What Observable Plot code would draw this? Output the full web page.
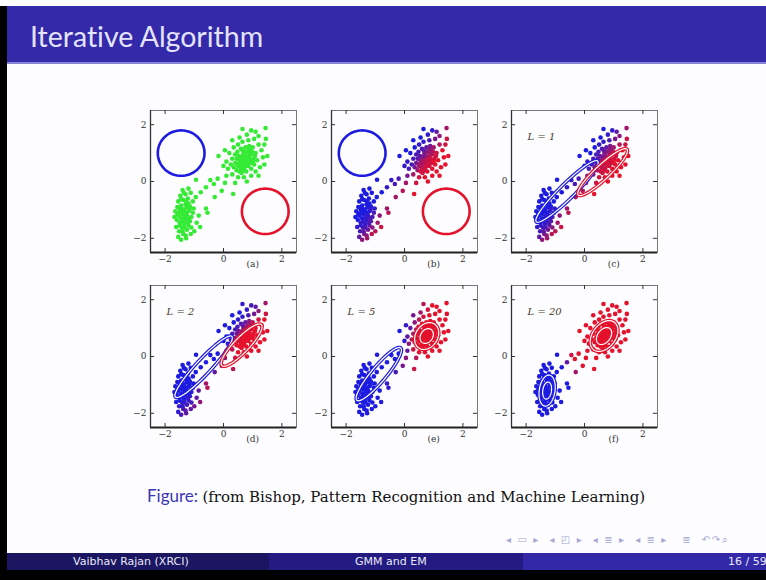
<!DOCTYPE html>
<html><head><meta charset="utf-8">
<script src="https://cdn.jsdelivr.net/npm/d3@7"></script>
<script src="https://cdn.jsdelivr.net/npm/@observablehq/plot@0.6"></script>
<style>
html,body{margin:0;padding:0;background:#fff;}
#slide{position:relative;width:766px;height:580px;overflow:hidden;background:#fdfdff;font-family:Lato,sans-serif;}
.abs{position:absolute;white-space:nowrap;}
</style></head><body><div id="slide">
<div class="abs" style="left:0;top:6px;width:7px;height:574px;background:#000"></div>
<div class="abs" style="left:7px;top:6px;width:759px;height:56px;background:#3429a8"></div>
<div class="abs" style="left:7px;top:62px;width:759px;height:2px;background:#8a82d4"></div>
<div class="abs" style="left:30px;top:20px;color:#e4e4ff;font-size:28.5px;line-height:32px;font-variant-ligatures:none;">Iterative Algorithm</div>
<div class="abs" id="caption" style="left:147px;top:486px;font-size:17px;line-height:20px;color:#111;"><span style="color:#3b35b5">Figure:</span> <span style="font-family:'DejaVu Serif',serif;font-size:15px">(from Bishop, Pattern Recognition and Machine Learning)</span></div>
<div class="abs" style="left:506px;top:534px;font-family:'DejaVu Sans',sans-serif;font-size:10px;color:#a8a8d4;letter-spacing:1.6px;">◂ ▭ ▸&nbsp; ◂ ◰ ▸&nbsp; ◂ ≣ ▸&nbsp; ◂ ≣ ▸&nbsp;&nbsp; ≣ &nbsp;↶↷⌕</div>
<div class="abs" style="left:7px;top:553px;width:262px;height:17px;background:#1b1662"></div>
<div class="abs" style="left:269px;top:553px;width:254px;height:17px;background:#231b82"></div>
<div class="abs" style="left:523px;top:553px;width:243px;height:17px;background:#3228a8"></div>
<div class="abs" style="left:0;top:570px;width:766px;height:10px;background:#000"></div>
<div class="abs" style="left:73px;top:555px;font-family:'DejaVu Sans',sans-serif;font-size:11px;line-height:13px;color:#e8e8f4;">Vaibhav Rajan (XRCI)</div>
<div class="abs" style="left:355px;top:555px;font-family:'DejaVu Sans',sans-serif;font-size:11px;line-height:13px;color:#e8e8f4;">GMM and EM</div>
<div class="abs" style="left:728px;top:555px;font-family:'DejaVu Sans',sans-serif;font-size:11px;line-height:13px;color:#e8e8f4;">16 / 59</div>
</div>
<script>
// Standardised Old Faithful data (x = eruption, y = waiting)
const faithful = [
[-1.55,-1.95],[-1.45,-2.05],[-1.38,-1.85],[-1.52,-1.75],[-1.30,-1.90],
[-1.62,-1.60],[-1.42,-1.62],[-1.25,-1.70],[-1.50,-1.45],[-1.35,-1.50],
[-1.20,-1.55],[-1.60,-1.35],[-1.45,-1.30],[-1.30,-1.35],[-1.15,-1.40],
[-1.55,-1.20],[-1.40,-1.15],[-1.25,-1.20],[-1.10,-1.25],[-1.65,-1.05],
[-1.50,-1.00],[-1.35,-0.98],[-1.20,-1.05],[-1.05,-1.10],[-1.45,-0.85],
[-1.30,-0.80],[-1.15,-0.88],[-1.55,-0.70],[-1.38,-0.65],[-1.22,-0.60],
[-1.05,-0.70],[-1.48,-0.50],[-1.30,-0.45],[-1.12,-0.40],[-0.95,-0.55],
[-1.40,-0.30],[-1.20,-0.25],[-0.94,0.06],[-0.78,-0.38],[-0.60,-0.95],
[-0.55,-1.10],[-0.85,-1.20],[-0.92,-1.45],[-0.80,-1.60],[-1.00,-1.75],
[-1.12,-1.85],[-1.68,-1.25],[-1.58,-0.90],[-1.28,-1.10],[-1.42,-1.40],
[-1.18,-1.30],[-1.34,-1.62],[-1.48,-1.12],[-1.26,-0.90],[-1.02,-0.95],
[0.50,0.55],[0.60,0.60],[0.70,0.65],[0.80,0.70],[0.90,0.75],
[0.55,0.75],[0.65,0.80],[0.75,0.85],[0.85,0.90],[0.95,0.95],
[0.45,0.40],[0.60,0.45],[0.72,0.50],[0.85,0.55],[0.40,0.65],
[0.52,0.90],[0.68,1.00],[0.80,1.05],[0.92,1.10],[1.02,0.80],
[1.05,0.60],[0.95,0.45],[0.35,0.50],[0.62,0.30],[0.78,0.35],
[0.48,1.05],[0.60,1.15],[0.75,1.20],[0.88,1.25],[1.00,1.20],
[1.10,1.00],[1.15,0.75],[0.30,0.80],[0.25,0.60],[0.40,0.95],
[1.20,1.30],[1.30,1.10],[1.25,0.50],[1.10,0.35],[0.95,0.20],
[0.70,0.15],[0.50,0.15],[0.30,0.25],[0.15,0.45],[0.10,0.70],
[0.20,1.00],[0.35,1.20],[0.50,1.30],[0.65,1.40],[0.85,1.45],
[1.05,1.50],[1.20,1.60],[1.40,1.30],[1.35,0.85],[1.40,0.60],
[1.44,1.88],[1.10,1.75],[0.80,1.65],[0.55,1.55],[0.30,1.45],
[0.05,1.10],[-0.17,0.90],[0.00,0.55],[0.10,0.20],[0.40,-0.05],
[0.80,0.00],[1.20,0.20],[1.50,0.90],[1.45,1.50],[0.95,1.80],
[0.65,1.85],
[-0.33,-0.09],[-0.06,-0.33],[0.33,-0.44],[-0.45,0.05],[-0.20,0.10],
[-0.60,-0.20],[-0.30,-0.55],[0.05,-0.05],
[0.58,0.68],[0.68,0.72],[0.78,0.78],[0.88,0.82],[0.62,0.88],
[0.72,0.92],[0.82,0.62],[0.92,0.65],[0.70,0.40],[0.55,0.35],
[0.45,0.80],[0.98,1.05],[1.08,0.90],[0.85,1.12],[0.66,1.10],
[0.52,0.62],[1.00,0.70],[0.76,0.58],[0.88,1.00],[0.60,0.52],
[-1.40,-1.75],[-1.32,-1.28],[-1.22,-1.45],[-1.50,-1.55],[-1.38,-1.05],
[-1.45,-0.62],[-1.28,-0.70],[-1.36,-0.40],[-1.16,-0.98],[-1.58,-1.15],
[-1.10,-1.62],[-1.28,-2.00],[-1.46,-0.95],[-1.20,-0.78],[-1.33,-1.20]
];

// responsibility of the red component, 0 (blue) ... 9 (red), per panel
const respB = [
3,5,4,2,5, 1,2,4,1,1, 3,0,0,1,3, 0,0,1,2,0, 0,0,1,2,0, 0,0,0,0,0, 0,0,0,0,0, 0,0,0,0,6, 7,5,6,8,7, 7,0,0,0,1, 2,2,0,0,1,
6,7,7,8,8, 5,6,6,7,7, 6,8,8,8,4, 3,4,5,6,8, 9,9,4,8,9, 2,2,3,4,6, 8,9,2,2,2,
7,9,9,9,9, 9,8,6,2,1, 0,0,1,1,2, 4,5,8,9,9,
6,3,1,0,0, 0,0,1,4,8, 9,9,9,8,1, 0,
2,7,9,1,2, 1,6,6,
6,7,7,8,4, 5,8,8,8,8, 3,7,8,5,3, 6,9,8,6,7,
3,1,2,1,0, 0,0,0,1,0, 5,6,0,0,1
];
const respC = respB;
const respD = [
1,2,2,1,3, 0,1,2,0,0, 1,0,0,0,1, 0,0,0,1,0, 0,0,0,0,0, 0,0,0,0,0, 0,0,0,0,0, 0,0,0,0,6, 7,3,3,5,4, 3,0,0,0,0, 0,1,0,0,0,
8,9,9,9,9, 7,8,8,9,9, 9,9,9,9,6, 4,5,6,7,9, 9,9,7,9,9, 2,2,3,5,7, 9,9,2,4,2,
8,9,9,9,9, 9,9,7,1,0, 0,0,1,1,2, 4,5,9,9,9,
6,3,1,0,0, 0,0,0,4,8, 9,9,9,8,2, 1,
0,4,7,0,0, 0,3,5,
8,9,9,9,6, 7,9,9,9,9, 4,8,9,6,3, 8,9,9,8,9,
1,0,1,0,0, 0,0,0,0,0, 2,3,0,0,0
];
const respE = [
0,0,0,0,0, 0,0,0,0,0, 0,0,0,0,0, 0,0,0,0,0, 0,0,0,0,0, 0,0,0,0,0, 0,0,0,0,0, 0,0,0,0,1, 1,0,0,0,0, 0,0,0,0,0, 0,0,0,0,0,
9,9,9,9,9, 9,9,9,9,9, 9,9,9,9,8, 9,9,9,9,9, 9,9,8,9,9, 8,9,9,9,9, 9,9,6,7,7,
9,9,9,9,9, 9,9,8,5,3, 3,5,7,8,9, 9,9,9,9,9,
9,9,8,6,4, 1,0,1,3,7, 9,9,9,9,9, 7,
0,4,8,0,0, 0,2,5,
9,9,9,9,9, 9,9,9,9,9, 8,9,9,9,9, 9,9,9,9,9,
0,0,0,0,0, 0,0,0,0,0, 0,0,0,0,0
];
const respF = [
0,0,0,0,0, 0,0,0,0,0, 0,0,0,0,0, 0,0,0,0,0, 0,0,0,0,0, 0,0,0,0,0, 0,0,0,0,0, 0,0,0,0,0, 0,0,0,0,0, 0,0,0,0,0, 0,0,0,0,0,
9,9,9,9,9, 9,9,9,9,9, 9,9,9,9,9, 9,9,9,9,9, 9,9,9,9,9, 9,9,9,9,9, 9,9,9,9,9,
9,9,9,9,9, 9,9,9,9,9, 9,9,9,9,9, 9,9,9,9,9,
9,9,9,9,9, 9,9,9,9,9, 9,9,9,9,9, 9,
9,9,9,8,9, 3,6,9,
9,9,9,9,9, 9,9,9,9,9, 9,9,9,9,9, 9,9,9,9,9,
0,0,0,0,0, 0,0,0,0,0, 0,0,0,0,0
];

const tickValues = [-2, 0, 2];
const panelLabels = ["(a)", "(b)", "(c)", "(d)", "(e)", "(f)"];
const iterLabels = ["", "", "L = 1", "L = 2", "L = 5", "L = 20"];
const responsibilities = [null, respB, respC, respD, respE, respF];
// component contours: [cx, cy, semi-axis a, semi-axis b, angle deg]
const blueComponents = [
  [-1.45, 1.0, 0.8, 0.8, 0], [-1.45, 1.0, 0.8, 0.8, 0],
  [-0.60, -0.35, 1.50, 0.26, 45.5], [-0.68, -0.36, 1.44, 0.26, 48],
  [-0.88, -0.62, 1.19, 0.26, 51], [-1.28, -1.20, 0.55, 0.27, 82]
];
const redComponents = [
  [1.43, -1.05, 0.8, 0.8, 0], [1.43, -1.05, 0.8, 0.8, 0],
  [0.62, 0.33, 1.16, 0.25, 44], [0.62, 0.40, 0.99, 0.26, 47],
  [0.76, 0.72, 0.50, 0.38, 60], [0.67, 0.72, 0.60, 0.40, 55]
];

const BLUE = "#1d1be0", RED = "#e5122c", GREEN = "#35ea35";
const frameLefts = [150, 331, 511], frameTops = [110, 285];
const ML = 30, MR = 14, MT = 6, MB = 22;

const angles = d3.range(0, 361, 5);
function outline([cx, cy, a, b, deg], s) {
  const th = deg * Math.PI / 180;
  return angles.map(t => {
    const u = t * Math.PI / 180;
    return {
      x: cx + s * (a * Math.cos(u) * Math.cos(th) - b * Math.sin(u) * Math.sin(th)),
      y: cy + s * (a * Math.cos(u) * Math.sin(th) + b * Math.sin(u) * Math.cos(th))
    };
  });
}

function contourMarks(comp, color, i) {
  if (i < 2) return [Plot.line(outline(comp, 1), {x: "x", y: "y", stroke: color, strokeWidth: 2.6})];
  const scales = (i >= 4 && (color === RED || i === 5)) ? [1, 0.55] : [1];
  const m = [];
  for (const s of scales) {
    const pts = outline(comp, s);
    m.push(Plot.line(pts, {x: "x", y: "y", stroke: color, strokeWidth: 3.6}));
    m.push(Plot.line(pts, {x: "x", y: "y", stroke: "white", strokeWidth: 1.2}));
  }
  return m;
}

const fmt = d => d < 0 ? "\u2212" + (-d) : String(d);
const slide = document.getElementById("slide");
for (let i = 0; i < 6; i++) {
  const resp = responsibilities[i];
  const pts = faithful.map((p, k) => ({x: p[0], y: p[1], r: resp ? resp[k] : 0}));
  const marks = [
    Plot.dot(pts, {x: "x", y: "y", r: 2.3, fill: resp ? "r" : GREEN, stroke: null}),
    ...contourMarks(blueComponents[i], BLUE, i),
    ...contourMarks(redComponents[i], RED, i),
    Plot.frame({stroke: "#777", strokeWidth: 1}),
    Plot.ruleY([-2.5], {stroke: "#222", strokeWidth: 2.2}),
    Plot.ruleX([-2.5], {stroke: "#333", strokeWidth: 1.3}),
    Plot.ruleX(tickValues, {x: d => d, y1: -2.5, y2: -2.36, stroke: "#333"}),
    Plot.ruleX(tickValues, {x: d => d, y1: 2.5, y2: 2.36, stroke: "#333"}),
    Plot.ruleY(tickValues, {y: d => d, x1: -2.5, x2: -2.36, stroke: "#333"}),
    Plot.ruleY(tickValues, {y: d => d, x1: 2.5, x2: 2.36, stroke: "#333"}),
    Plot.axisX({ticks: tickValues, tickSize: 0, tickPadding: 3, tickFormat: fmt, label: null, fill: "#333"}),
    Plot.axisY({ticks: tickValues, tickSize: 0, tickPadding: 4, tickFormat: fmt, label: null, fill: "#333"}),
    Plot.text([panelLabels[i]], {x: () => 1.0, y: () => -2.5, text: d => d, dy: 12, fill: "#333", fontSize: 9})
  ];
  if (iterLabels[i]) {
    marks.push(Plot.text([iterLabels[i]], {x: () => -1.95, y: () => 1.58, text: d => d, textAnchor: "start",
      fontStyle: "italic", fontSize: 10, fill: "#4a3a30"}));
  }
  const chart = Plot.plot({
    width: 190, height: 170,
    marginLeft: ML, marginRight: MR, marginTop: MT, marginBottom: MB,
    x: {domain: [-2.5, 2.5], axis: null},
    y: {domain: [-2.5, 2.5], axis: null},
    color: {type: "linear", domain: [0, 9], range: [BLUE, RED], interpolate: "rgb"},
    style: {background: "transparent", overflow: "visible", fontFamily: "'DejaVu Serif', serif", fontSize: "9px", color: "#333"},
    marks
  });
  const holder = document.createElement("div");
  holder.className = "abs";
  holder.style.left = (frameLefts[i % 3] - ML) + "px";
  holder.style.top = (frameTops[Math.floor(i / 3)] - MT) + "px";
  holder.appendChild(chart);
  slide.appendChild(holder);
}
</script>
</body></html>
